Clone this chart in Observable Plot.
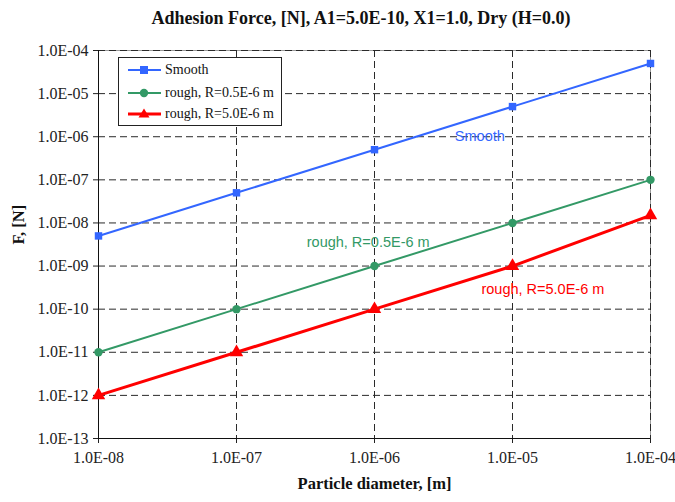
<!DOCTYPE html>
<html>
<head>
<meta charset="utf-8">
<script src="https://cdn.jsdelivr.net/npm/d3@7"></script>
<script src="https://cdn.jsdelivr.net/npm/@observablehq/plot@0.6"></script>
<style>
  body { margin: 0; background: #fff; }
  #wrap { position: relative; width: 675px; height: 502px; overflow: hidden; }
  #title { position: absolute; left: 0; width: 722px; top: 8px; text-align: center;
    font: bold 18px "Liberation Serif", serif; color: #111; }
  #legend { position: absolute; left: 118px; top: 57px; width: 162px; height: 67px;
    border: 1px solid #222; background: #fff; font: 14px "Liberation Serif", serif; color: #111; }
  #legend .row { position: absolute; left: 0; height: 20px; display: flex; align-items: center; }
  #legend svg { margin-left: 9px; margin-right: 4px; }
</style>
</head>
<body>
<div id="wrap">
  <div id="chart"></div>
  <div id="title"></div>
  <div id="legend"></div>
</div>
<script>
const titleText = "Adhesion Force, [N], A1=5.0E-10, X1=1.0, Dry (H=0.0)";
const xLabel = "Particle diameter, [m]";
const yLabel = "F, [N]";

const diameters = [1e-8, 1e-7, 1e-6, 1e-5, 1e-4];
const smoothF = [5e-9, 5e-8, 5e-7, 5e-6, 5e-5];
const rough05F = [1e-11, 1e-10, 1e-9, 1e-8, 1e-7];
const rough50F = [1e-12, 1e-11, 1e-10, 1e-9, 1.5e-8];

const seriesNames = ["Smooth", "rough, R=0.5E-6 m", "rough, R=5.0E-6 m"];
const seriesColors = ["#3366ff", "#339966", "#ff0000"];
const seriesWidths = [2, 2, 3];
const seriesSymbols = ["square", "circle", "triangle"];
const seriesValues = [smoothF, rough05F, rough50F];

const xTicks = [1e-8, 1e-7, 1e-6, 1e-5, 1e-4];
const yTicks = [1e-13, 1e-12, 1e-11, 1e-10, 1e-9, 1e-8, 1e-7, 1e-6, 1e-5, 1e-4];

const annoText = ["Smooth", "rough, R=0.5E-6 m", "rough, R=5.0E-6 m"];
const annoX = [5.8e-6, 9.0e-7, 1.66e-5];
const annoY = [1.0e-6, 3.5e-9, 2.9e-10];

const fmt = d => {
  const e = Math.round(Math.log10(d));
  return "1.0E" + (e < 0 ? "-" : "+") + String(Math.abs(e)).padStart(2, "0");
};

const rows = [];
seriesNames.forEach((name, i) => diameters.forEach((d, j) => rows.push({series: name, x: d, y: seriesValues[i][j], i})));
const annos = annoText.map((t, i) => ({t, x: annoX[i], y: annoY[i], c: seriesColors[i]}));

const marks = [
  Plot.frame({stroke: "#9a9a9a"}),
  Plot.gridX(xTicks.slice(1), {stroke: "#2a2a2a", strokeOpacity: 1, strokeDasharray: "7,4"}),
  Plot.gridY(yTicks.slice(1), {stroke: "#2a2a2a", strokeOpacity: 1, strokeDasharray: "7,4"}),
  Plot.axisX(xTicks, {tickFormat: fmt, tickSize: 5, tickPadding: 8, label: null, fontSize: 16}),
  Plot.axisY(yTicks, {tickFormat: fmt, tickSize: 5, tickPadding: 5, label: null, fontSize: 16}),
  Plot.ruleX([xTicks[0]], {stroke: "#111"}),
  Plot.ruleY([yTicks[0]], {stroke: "#111"}),
];
seriesNames.forEach((name, i) => {
  const data = rows.filter(r => r.i === i);
  marks.push(Plot.line(data, {x: "x", y: "y", stroke: seriesColors[i], strokeWidth: seriesWidths[i]}));
  marks.push(Plot.dot(data, {x: "x", y: "y", fill: seriesColors[i], symbol: () => seriesSymbols[i], r: i === 2 ? 5 : 4.2, stroke: "none"}));
});
marks.push(Plot.text(annos, {x: "x", y: "y", text: "t", fill: d => d.c, fontSize: 14.5, fontFamily: "Liberation Sans, Arial, sans-serif", textAnchor: "middle"}));
marks.push(Plot.text([xLabel], {frameAnchor: "bottom", dy: 50, fontWeight: "bold", fontSize: 16.5, fill: "#111"}));
marks.push(Plot.text([yLabel], {frameAnchor: "left", dx: -80, rotate: -90, fontWeight: "bold", fontSize: 16.5, fill: "#111"}));

const chart = Plot.plot({
  width: 675, height: 502,
  marginLeft: 98, marginRight: 25, marginTop: 50, marginBottom: 64,
  x: {type: "log", domain: [1e-8, 1e-4]},
  y: {type: "log", domain: [1e-13, 1e-4]},
  symbol: {type: "identity"},
  style: {fontFamily: "Liberation Serif, Times New Roman, serif", fontSize: "16px", color: "#222", background: "#fff"},
  marks
});
document.getElementById("chart").appendChild(chart);
document.getElementById("title").textContent = titleText;

const leg = document.getElementById("legend");
const rowTops = [2, 25, 46];
seriesNames.forEach((name, i) => {
  const row = document.createElement("div");
  row.className = "row";
  row.style.top = rowTops[i] + "px";
  const c = seriesColors[i];
  let sym;
  if (i === 0) sym = `<rect x="12" y="6" width="8" height="8" fill="${c}"/>`;
  else if (i === 1) sym = `<circle cx="16" cy="10" r="4.2" fill="${c}"/>`;
  else sym = `<polygon points="16,4.5 21.5,13.5 10.5,13.5" fill="${c}"/>`;
  row.innerHTML = `<svg width="33" height="20"><line x1="0" y1="10" x2="33" y2="10" stroke="${c}" stroke-width="${seriesWidths[i]}"/>${sym}</svg><span>${name}</span>`;
  leg.appendChild(row);
});
</script>
</body>
</html>
